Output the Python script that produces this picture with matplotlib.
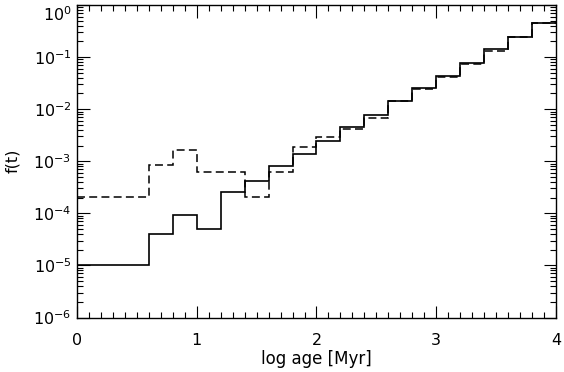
"""
Age distribution f(t) histogram, two models (solid / dashed) on log scale.
"""

import matplotlib
matplotlib.use("Agg")
import matplotlib.pyplot as plt
import matplotlib.ticker as mticker
import matplotlib.transforms as mtransforms
import numpy as np

# bin edges in log age [Myr]
edges = np.round(np.arange(0.0, 4.01, 0.2), 2)

# solid histogram
f_solid = [1.0e-5, 1.0e-5, 1.0e-5, 4.0e-5, 9.2e-5, 5.1e-5, 2.6e-4, 4.1e-4,
           8.2e-4, 1.4e-3, 2.4e-3, 4.5e-3, 7.6e-3, 1.41e-2, 2.5e-2, 4.24e-2,
           7.85e-2, 0.142, 0.24, 0.447]

# dashed histogram
f_dashed = [2.1e-4, 2.1e-4, 2.1e-4, 8.3e-4, 1.65e-3, 6.2e-4, 6.2e-4, 2.1e-4,
            6.2e-4, 1.9e-3, 2.9e-3, 4.2e-3, 6.9e-3, 1.41e-2, 2.46e-2, 4.1e-2,
            7.3e-2, 0.131, 0.24, 0.447]

plt.rcParams["font.family"] = "DejaVu Sans"

fig = plt.figure(figsize=(5.64, 3.72), dpi=100)
ax = fig.add_axes([0.1365, 0.1465, 0.8493, 0.8401])

ax.stairs(f_dashed, edges, baseline=None, color="black", linewidth=1.1,
          linestyle=(0, (5.2, 2.8)))
ax.stairs(f_solid, edges, baseline=None, color="black", linewidth=1.2)

ax.set_yscale("log")
ax.set_xlim(0, 4)
ax.set_ylim(1e-6, 1e0)

ax.xaxis.set_major_locator(mticker.MultipleLocator(1))
ax.xaxis.set_minor_locator(mticker.MultipleLocator(0.1))
# only the decades inside the view, so no stray labels off the figure
ax.yaxis.set_major_locator(mticker.FixedLocator(10.0 ** np.arange(-6, 1)))
ax.yaxis.set_minor_locator(mticker.LogLocator(base=10, subs=np.arange(2, 10), numticks=20))
ax.yaxis.set_minor_formatter(mticker.NullFormatter())
ax.yaxis.set_major_formatter(mticker.LogFormatterSciNotation())

ax.tick_params(which="both", direction="in", top=True, right=True,
               labelsize=11.5, width=0.8)
ax.tick_params(which="major", length=9)
ax.tick_params(axis="x", which="major", pad=11)
ax.tick_params(axis="y", which="major", pad=4)
ax.tick_params(which="minor", length=4.5)
for s in ax.spines.values():
    s.set_linewidth(1.0)

ax.set_xlabel("log age [Myr]", fontsize=12)
ax.set_ylabel("f(t)", fontsize=11.5)
ax.xaxis.set_label_coords(0.5, -0.103)
ax.yaxis.set_label_coords(-0.118, 0.5)

# nudge the top label (10^0) down so it sits inside the figure
fig.canvas.draw()
shift = mtransforms.ScaledTranslation(0, -6 / 72, fig.dpi_scale_trans)
for tick in ax.yaxis.get_major_ticks():
    if np.isclose(tick.get_loc(), 1.0):
        tick.label1.set_transform(tick.label1.get_transform() + shift)

fig.savefig("out.png", dpi=100)
plt.close(fig)
